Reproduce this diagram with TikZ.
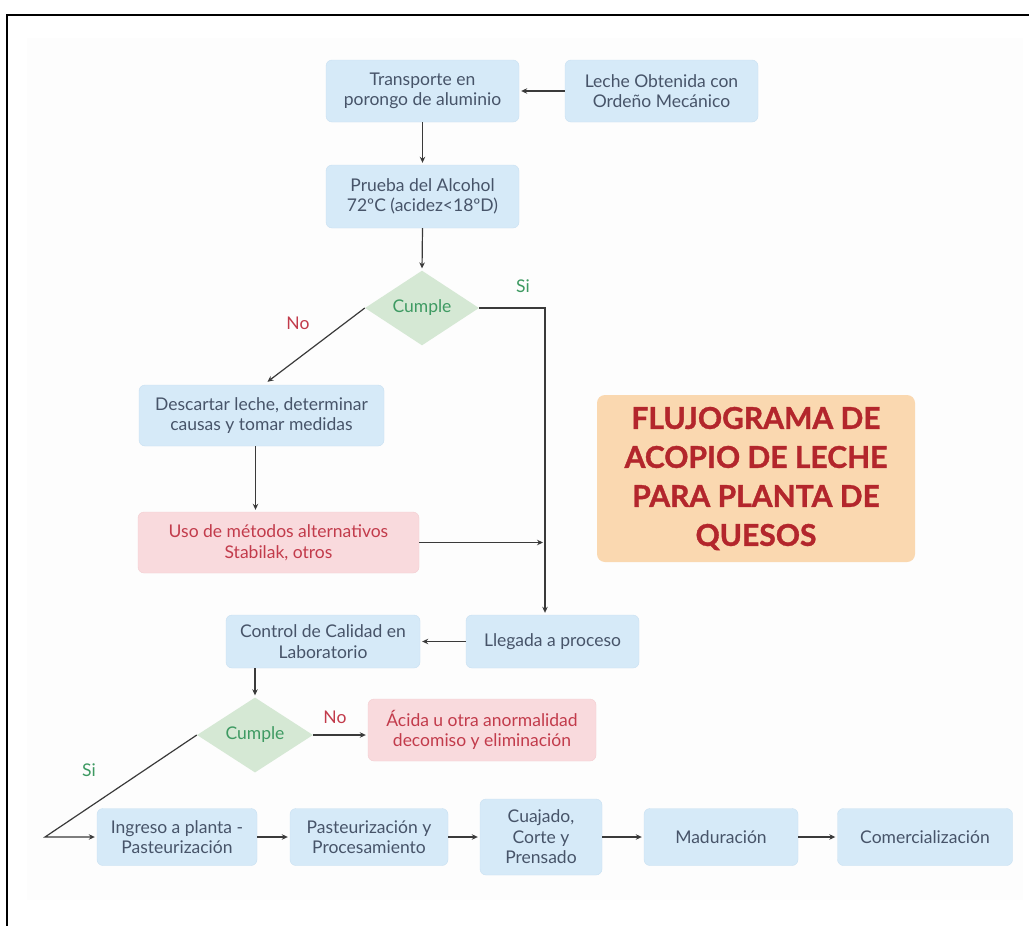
\documentclass[tikz,border=0pt]{standalone}
\usepackage{fontspec}
\setmainfont{Lato}
\newfontfamily\titlefam[BoldFeatures={FakeBold=1.2}]{Lato}
\usetikzlibrary{shapes.geometric,arrows.meta,calc}

\definecolor{bluefill}{HTML}{D6EAF8}
\definecolor{bluedraw}{HTML}{C8E0F2}
\definecolor{pinkfill}{HTML}{F9DADD}
\definecolor{pinkdraw}{HTML}{F3CDD1}
\definecolor{greenfill}{HTML}{D5E8D4}
\definecolor{peachfill}{HTML}{FAD8B0}
\definecolor{bodytext}{HTML}{475469}
\definecolor{redtext}{HTML}{C23B4B}
\definecolor{greentext}{HTML}{3E9A62}
\definecolor{titletext}{HTML}{B3262C}
\definecolor{linecol}{HTML}{3A3A3A}

\newcommand{\bodyfont}{\fontsize{17.5}{20.5}\selectfont}
\newcommand{\titlefont}{\titlefam\fontsize{30}{39}\selectfont\bfseries}

\tikzset{
  x=1pt, y=-1pt,
  bluebox/.style={rectangle, rounded corners=6pt, draw=bluedraw, fill=bluefill,
    text=bodytext, align=center, font=\bodyfont, inner sep=0pt},
  pinkbox/.style={bluebox, draw=pinkdraw, fill=pinkfill, text=redtext},
  decision/.style={diamond, fill=greenfill, text=greentext, font=\bodyfont,
    inner sep=0pt},
  flow/.style={draw=linecol, line width=1.2pt,
    -{Stealth[length=6pt,width=5.5pt]}, shorten >=2pt},
  yes/.style={text=greentext, font=\bodyfont},
  no/.style={text=redtext, font=\bodyfont},
}

\begin{document}
\begin{tikzpicture}
\useasboundingbox (0,0) rectangle (1029,926);
% faint panel and the black frame lines
\fill[black!0.7] (27,38) rectangle (1023,900);
\draw[line width=2.5pt, line cap=rect] (7,926) -- (7,15) -- (1029,15);

% upper chain
\node[bluebox, minimum width=193, minimum height=62] (trans) at (422.5,91)
  {Transporte en\\porongo de aluminio};
\node[bluebox, minimum width=193, minimum height=62] (leche) at (661.5,91)
  {Leche Obtenida con\\Ordeño Mecánico};
\node[bluebox, minimum width=193, minimum height=63] (prueba) at (422.5,196.5)
  {Prueba del Alcohol\\72ºC (acidez<18ºD)};
\node[decision, minimum width=114, minimum height=73] (d1) at (422,308) {Cumple};
\node[bluebox, minimum width=245, minimum height=61] (descartar) at (261.5,415.5)
  {Descartar leche, determinar\\causas y tomar medidas};
\node[pinkbox, minimum width=281, minimum height=61] (uso) at (278.5,542.5)
  {Uso de métodos alternativos\\Stabilak, otros};

% title
\node[rectangle, rounded corners=8pt, fill=peachfill, text=titletext,
  minimum width=318, minimum height=167, align=center, font=\titlefont,
  inner sep=0pt] (title) at (756,478.5)
  {FLUJOGRAMA DE\\ACOPIO DE LECHE\\PARA PLANTA DE\\QUESOS};

% middle chain
\node[bluebox, minimum width=173, minimum height=53] (llegada) at (552.5,641.5)
  {Llegada a proceso};
\node[bluebox, minimum width=194, minimum height=53] (control) at (323,641.5)
  {Control de Calidad en\\Laboratorio};
\node[decision, minimum width=116, minimum height=75] (d2) at (255,735) {Cumple};
\node[pinkbox, minimum width=228, minimum height=62] (acida) at (482,730)
  {Ácida u otra anormalidad\\decomiso y eliminación};

% bottom chain
\node[bluebox, minimum width=160, minimum height=57] (ingreso) at (177,837)
  {Ingreso a planta -\\Pasteurización};
\node[bluebox, minimum width=158, minimum height=57] (pasteur) at (369,837)
  {Pasteurización y\\Procesamiento};
\node[bluebox, minimum width=122, minimum height=76] (cuajado) at (541,837)
  {Cuajado,\\Corte y\\Prensado};
\node[bluebox, minimum width=154, minimum height=57] (madur) at (721,837)
  {Maduración};
\node[bluebox, minimum width=175, minimum height=57] (comer) at (925,837)
  {Comercialización};

% joints
\coordinate (jn) at (545,308);
\coordinate (sw) at (45,837);

% connectors
\draw[flow] (leche.west) -- (trans.east);
\draw[flow] (trans.south) -- (prueba.north);
\draw[flow] (prueba.south) -- (d1.north);
\draw[flow] (d1.east) -- (jn) -- (jn |- llegada.north);
\draw[flow, shorten >=5pt] (d1.west) -- ([xshift=2pt]descartar.north);
\draw[flow] ([xshift=-6pt]descartar.south) -- ([xshift=-6pt]descartar.south |- uso.north);
\draw[flow] (uso.east) -- (jn |- uso.east);
\draw[flow] (llegada.west) -- (control.east);
\draw[flow] (d2.north |- control.south) -- (d2.north);
\draw[flow] (d2.east) -- (d2.east -| acida.west);
\draw[flow] (d2.west) -- (sw) -- (ingreso.west);
\draw[flow] (ingreso.east) -- (pasteur.west);
\draw[flow] (pasteur.east) -- (cuajado.west);
\draw[flow] (cuajado.east) -- (madur.west);
\draw[flow] (madur.east) -- (comer.west);

% branch labels
\node[yes] (si1) at (523,286) {Si};
\node[no] (no1) at (298,323) {No};
\node[no] (no2) at (335,717) {No};
\node[yes] (si2) at (89,770) {Si};
\end{tikzpicture}
\end{document}
